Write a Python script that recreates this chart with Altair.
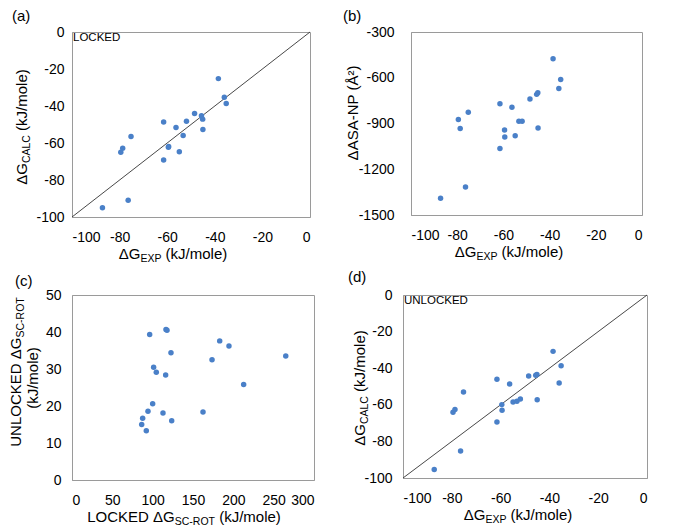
import altair as alt
import pandas as pd

FONT = "Liberation Sans"
BLUE = "#4a80c8"
GRAY = "#9a9a9a"

# ---------------- data ----------------
dg_exp = [-87.2, -76.4, -79.5, -78.7, -75.2, -61.5, -61.5, -59.5, -59.4, -56.3,
          -54.9, -53.3, -51.9, -48.5, -45.6, -45.1, -45.0, -38.5, -36.0, -35.2]
dg_calc_locked = [-95.0, -91.0, -65.0, -62.8, -56.5, -48.7, -69.2, -62.3, -61.9, -51.6,
                  -64.7, -55.9, -48.2, -44.1, -45.3, -47.1, -52.7, -25.2, -35.3, -38.7]
dasa_np = [-1390, -1316, -874, -933, -826, -771, -1064, -942, -988, -793,
           -981, -885, -885, -740, -709, -698, -930, -475, -670, -611]
dg_calc_unlocked = [-95.4, -85.2, -64.1, -62.5, -53.0, -46.1, -69.4, -59.9, -63.0, -48.6,
                    -58.5, -58.1, -56.8, -44.3, -43.9, -43.5, -57.2, -30.8, -48.1, -38.6]
locked_scrot = [86.4, 87.6, 92.1, 94.2, 96.3, 100.0, 101.2, 104.5, 112.8, 116.1,
                116.5, 117.8, 122.7, 123.6, 162.4, 173.6, 183.1, 194.6, 212.8, 265.0]
unlocked_scrot = [15.0, 16.7, 13.3, 18.6, 39.3, 20.6, 30.5, 29.1, 18.1, 28.4,
                  40.7, 40.5, 34.4, 16.0, 18.4, 32.5, 37.6, 36.2, 25.8, 33.5]
diag_x = [-100, 0]
diag_y = [-100, 0]

ticks_dg = [-100, -80, -60, -40, -20, 0]
ticks_asa = [-1500, -1200, -900, -600, -300]
ticks_locked = [0, 50, 100, 150, 200, 250, 300]
ticks_unlocked = [0, 10, 20, 30, 40, 50]

# ---------------- helpers ----------------
EM = {"Δ": 0.668, "G": 0.778, "C": 0.722, "A": 0.667, "L": 0.556, "E": 0.667,
      "X": 0.667, "P": 0.667, "S": 0.667, "R": 0.722, "O": 0.778, "T": 0.611,
      "-": 0.333, " ": 0.278, "(": 0.333, ")": 0.333, "k": 0.5, "J": 0.5,
      "/": 0.278, "m": 0.833, "o": 0.556, "l": 0.222, "e": 0.556, "N": 0.722,
      "U": 0.722, "K": 0.667, "D": 0.722, "Å": 0.667, "²": 0.333}


def text_width(s, size):
    return sum(EM.get(c, 0.556) for c in s) * size


dummy = pd.DataFrame({"k": [0]})


def rich(parts, x, y, angle=0):
    """parts: list of (text, fontsize, dy); centred on (x, y) along the text direction."""
    total = sum(text_width(t, s) for t, s, _ in parts)
    if angle == 0:
        ax, ay = x - total / 2, y
    else:
        ax, ay = x, y + total / 2
    layers = []
    off = 0.0
    for t, s, dy in parts:
        lead = len(t) - len(t.lstrip(" "))
        off += lead * EM[" "] * s
        core = t.strip(" ")
        kw = dict(text=core, font=FONT, fontSize=s, align="left", baseline="alphabetic",
                  color="black", dx=off, dy=dy)
        if angle:
            kw["angle"] = angle
        layers.append(alt.Chart(dummy).mark_text(**kw).encode(x=alt.value(ax), y=alt.value(ay)))
        off += text_width(core, s)
    return layers


def dg_title(sub, big=15, small=10.5):
    return [("ΔG", big, 0), (sub, small, 3), (" (kJ/mole)", big, 0)]


def panel(xv, yv, xdom, ydom, xt, yt, W, H, xlabpad, ylabpad, extra, diag=False):
    df = pd.DataFrame({"x": xv, "y": yv})
    common = dict(title=None, grid=False, ticks=False, domainColor=GRAY,
                  domainWidth=1, labelFont=FONT, labelFontSize=14, labelColor="black",
                  labelExpr="'' + datum.value")
    xenc = alt.X("x:Q", scale=alt.Scale(domain=xdom, nice=False, zero=False),
                 axis=alt.Axis(values=xt, labelPadding=xlabpad, **common))
    yenc = alt.Y("y:Q", scale=alt.Scale(domain=ydom, nice=False, zero=False),
                 axis=alt.Axis(values=yt, labelPadding=ylabpad, **common))
    layers = []
    if diag:
        ddf = pd.DataFrame({"x": diag_x, "y": diag_y})
        layers.append(alt.Chart(ddf).mark_line(color="#333333", strokeWidth=0.9).encode(x=xenc, y=yenc))
    layers.append(alt.Chart(df).mark_circle(size=30, color=BLUE, opacity=1).encode(x=xenc, y=yenc))
    layers += extra
    return alt.layer(*layers).properties(width=W, height=H)


def label(t, x, y, size=15, align="left", angle=0):
    kw = dict(text=t, font=FONT, fontSize=size, align=align, baseline="alphabetic", color="black")
    if angle:
        kw["angle"] = angle
    return alt.Chart(dummy).mark_text(**kw).encode(x=alt.value(x), y=alt.value(y))


# ---------------- panels ----------------
Wa, Ha = 238, 185
pa = panel(dg_exp, dg_calc_locked, [-100, 0], [-100, 0], ticks_dg, ticks_dg, Wa, Ha, 13, 8,
           [label("(a)", -60, -11), label("LOCKED", 1, 9, 11.5)]
           + rich(dg_title("EXP"), 101, Ha + 42)
           + rich(dg_title("CALC"), -45, 95, angle=270),
           diag=True)

Wb, Hb = 231, 183
pb = panel(dg_exp, dasa_np, [-100, 0], [-1500, -300], ticks_dg, ticks_asa, Wb, Hb, 13, 17,
           [label("(b)", -68, -11), label("ΔASA-NP (Å²)", -53, 81, 15, "center", 270)]
           + rich(dg_title("EXP"), 98, Hb + 42))

Wc, Hc = 242, 185
pc = panel(locked_scrot, unlocked_scrot, [0, 300], [0, 50], ticks_locked, ticks_unlocked, Wc, Hc, 13, 11,
           [label("(c)", -57, -9), label("(kJ/mole)", -34, 83, 15, "center", 270)]
           + rich([("LOCKED ΔG", 15, 0), ("SC-ROT", 10.5, 3), (" (kJ/mole)", 15, 0)], 112, Hc + 42)
           + rich([("UNLOCKED ΔG", 15, 0), ("SC-ROT", 10.5, 3)], -51, 77, angle=270))

Wd, Hd = 244, 183
pd_ = panel(dg_exp, dg_calc_unlocked, [-100, 0], [-100, 0], ticks_dg, ticks_dg, Wd, Hd, 13, 11,
            [label("(d)", -55, -13), label("UNLOCKED", 1, 9, 11.5)]
            + rich(dg_title("EXP"), 115, Hd + 42)
            + rich(dg_title("CALC"), -38, 93, angle=270),
            diag=True)

chart = alt.vconcat(
    alt.hconcat(pa, pb, spacing=29),
    alt.hconcat(pc, pd_, spacing=32),
    spacing=4,
).properties(
    padding={"left": 0, "top": 0, "right": 5, "bottom": 5}
).configure_view(stroke=GRAY, strokeWidth=1)

chart.save("out.html", embed_options={"renderer": "svg", "actions": False})
